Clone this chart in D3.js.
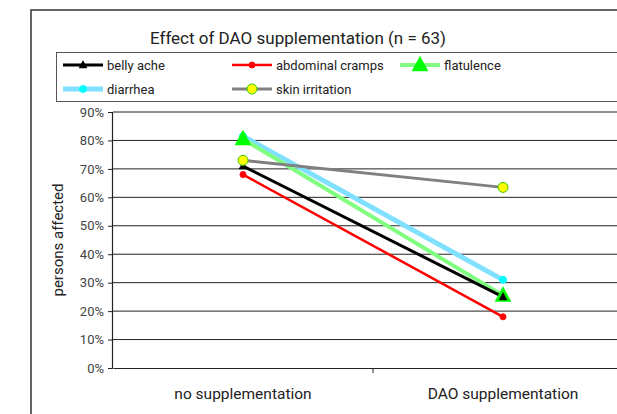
<!DOCTYPE html>
<html><head><meta charset="utf-8">
<script src="https://cdn.jsdelivr.net/npm/d3@7/dist/d3.min.js"></script>
<style>html,body{margin:0;padding:0;background:#fff;overflow:hidden}</style>
</head><body><svg id="c" width="617" height="414"></svg>
<script>
const categories = ["no supplementation", "DAO supplementation"];
const seriesNames = ["belly ache", "abdominal cramps", "flatulence", "diarrhea", "skin irritation"];
const bellyAche = [71, 25];
const abdominalCramps = [68, 18];
const flatulence = [80.5, 25.5];
const diarrhea = [81.5, 31];
const skinIrritation = [73, 63.5];
const yTicks = [0, 10, 20, 30, 40, 50, 60, 70, 80, 90];
const title = "Effect of DAO supplementation (n = 63)";
const yTitle = "persons affected";

const FONT = "Roboto, 'DejaVu Sans', sans-serif";
const styles = [
  {line:"#000000", w:3, marker:"tri", mfill:"#000", mstroke:"#000", ms:4},
  {line:"#ff0000", w:2.5, marker:"circle", mfill:"#ff0000", mstroke:"#ff0000", ms:3},
  {line:"#80ff80", w:4, marker:"tri", mfill:"#00ff00", mstroke:"#00ff00", ms:8},
  {line:"#80e0ff", w:5, marker:"circle", mfill:"#00ffff", mstroke:"#00ffff", ms:3.5},
  {line:"#808080", w:3, marker:"circle", mfill:"#ffff00", mstroke:"#33cc00", ms:5}
];
const data = [bellyAche, abdominalCramps, flatulence, diarrhea, skinIrritation];

const svg = d3.select("#c");
// outer frame
svg.append("rect").attr("x",31).attr("y",10).attr("width",700).attr("height",500)
  .attr("fill","#fff").attr("stroke","#333").attr("stroke-width",1.5);

const pLeft = 113, pTop = 112, pBottom = 368, pRight = 633;
const x = d3.scaleBand().domain(categories).range([pLeft, pRight]);
const y = d3.scaleLinear().domain([0, 90]).range([pBottom, pTop]);

// gridlines
svg.append("g").selectAll("line").data(yTicks.filter(d=>d>0)).join("line")
  .attr("x1", pLeft).attr("x2", pRight).attr("y1", d=>y(d)).attr("y2", d=>y(d))
  .attr("stroke","#222").attr("stroke-width",1);

// y axis
const ya = svg.append("g").attr("transform",`translate(${pLeft},0)`)
  .call(d3.axisLeft(y).tickValues(yTicks).tickFormat(d=>d+"%").tickSize(5).tickPadding(4));
ya.select(".domain").attr("stroke","#222").attr("stroke-width",1.2).attr("d",`M-0.5,${pTop}V${pBottom}`);
ya.selectAll(".tick line").attr("stroke","#222");
ya.selectAll("text").attr("font-family",FONT).attr("font-size",13).attr("fill","#444");

// x axis
const xa = svg.append("g").attr("transform",`translate(0,${pBottom})`)
  .call(d3.axisBottom(x).tickSize(0).tickPadding(20));
xa.select(".domain").attr("stroke","#222").attr("stroke-width",1.2);
xa.selectAll("text").attr("font-family",FONT).attr("font-size",15.5).attr("fill","#222");
// category separator ticks
svg.append("g").selectAll("line").data(categories.slice(1)).join("line")
  .attr("x1", d=>x(d)).attr("x2", d=>x(d)).attr("y1", pBottom).attr("y2", pBottom+5)
  .attr("stroke","#222");

// y title
svg.append("text").attr("transform","translate(63,240) rotate(-90)")
  .attr("text-anchor","middle").attr("font-family",FONT).attr("font-size",15).attr("fill","#222").text(yTitle);

// title
svg.append("text").attr("x",298).attr("y",44).attr("text-anchor","middle")
  .attr("font-family",FONT).attr("font-size",17).attr("fill","#222").text(title);

function marker(g, s, cx, cy){
  if (s.marker==="tri"){
    const r = s.ms;
    g.append("path").attr("d",`M${cx},${cy-r*1.1}L${cx+r},${cy+r*0.75}L${cx-r},${cy+r*0.75}Z`)
      .attr("fill",s.mfill).attr("stroke",s.mstroke).attr("stroke-width",0.5);
  } else {
    g.append("circle").attr("cx",cx).attr("cy",cy).attr("r",s.ms)
      .attr("fill",s.mfill).attr("stroke",s.mstroke).attr("stroke-width",1);
  }
}

// series
const line = d3.line().x((d,i)=>x(categories[i])+x.bandwidth()/2).y(d=>y(d));
const order = [3,2,0,1,4];
order.forEach(k=>{
  const s = styles[k];
  svg.append("path").datum(data[k]).attr("d",line).attr("fill","none")
    .attr("stroke",s.line).attr("stroke-width",s.w);
});
order.forEach(k=>{
  const s = styles[k];
  const g = svg.append("g");
  data[k].forEach((v,i)=>marker(g, s, x(categories[i])+x.bandwidth()/2, y(v)));
});

// legend
svg.append("rect").attr("x",56.5).attr("y",52.5).attr("width",600).attr("height",49)
  .attr("fill","#fff").attr("stroke","#555").attr("stroke-width",1);
const legPos = [[63,65],[232,65],[400,65],[63,89],[232,89]];
seriesNames.forEach((n,k)=>{
  const s = styles[k];
  const [lx,ly] = legPos[k];
  const g = svg.append("g");
  g.append("line").attr("x1",lx).attr("x2",lx+40).attr("y1",ly).attr("y2",ly)
    .attr("stroke",s.line).attr("stroke-width",s.w);
  marker(g, s, lx+20, ly);
  g.append("text").attr("x",lx+44).attr("y",ly).attr("dy","0.35em")
    .attr("font-family",FONT).attr("font-size",13).attr("fill","#222").text(n);
});
</script></body></html>
